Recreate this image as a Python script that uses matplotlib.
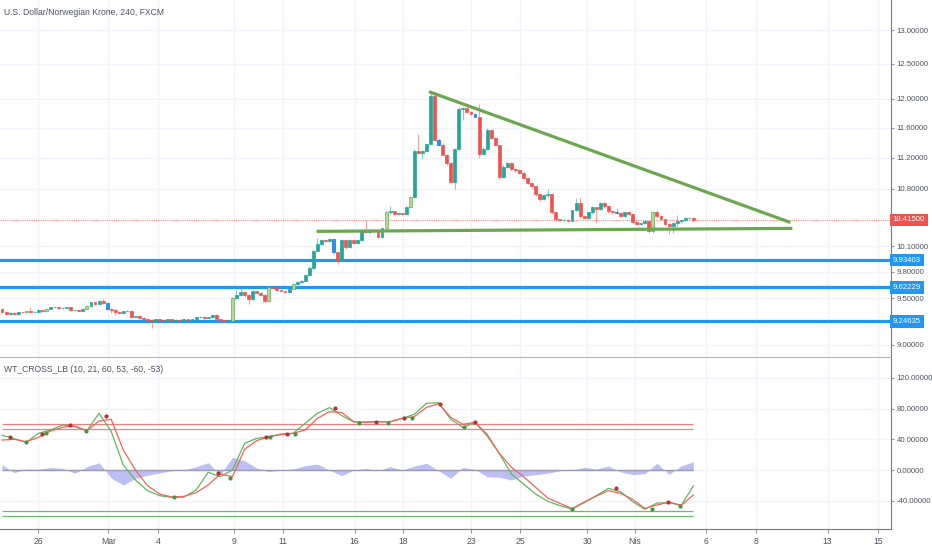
import numpy as np
import matplotlib
matplotlib.use('Agg')
import matplotlib.pyplot as plt
from matplotlib.ticker import FixedLocator, FixedFormatter, NullLocator

plt.rcParams['font.family'] = ['Liberation Sans', 'DejaVu Sans']

# ---- price data (4h bars) ----
first_open = 9.381
closes = [9.348, 9.326, 9.340, 9.326, 9.348, 9.345, 9.359, 9.350, 9.355, 9.370,
          9.359, 9.386, 9.403, 9.400, 9.392, 9.397, 9.403, 9.370, 9.370, 9.365,
          9.386, 9.414, 9.458, 9.436, 9.475, 9.447, 9.381, 9.375, 9.348, 9.343,
          9.359, 9.364, 9.293, 9.304, 9.283, 9.274, 9.266, 9.255, 9.270, 9.265,
          9.258, 9.270, 9.261, 9.267, 9.255, 9.270, 9.256, 9.270, 9.290, 9.300,
          9.284, 9.290, 9.320, 9.270, 9.260, 9.250, 9.252, 9.502, 9.536, 9.569,
          9.536, 9.491, 9.580, 9.558, 9.540, 9.469, 9.625, 9.614, 9.592, 9.585,
          9.569, 9.603, 9.659, 9.680, 9.700, 9.760, 9.840, 10.038, 10.121, 10.168,
          10.156, 10.180, 10.026, 9.933, 10.168, 10.085, 10.168, 10.132, 10.168, 10.275,
          10.263, 10.287, 10.275, 10.203, 10.311, 10.505, 10.517, 10.481, 10.493, 10.481,
          10.567, 10.691, 11.294, 11.267, 11.294, 11.386, 12.042, 11.439, 11.373, 11.241,
          11.136, 10.892, 11.320, 11.861, 11.875, 11.820, 11.790, 11.750, 11.254, 11.320,
          11.573, 11.466, 11.373, 10.956, 11.084, 11.136, 11.058, 11.045, 11.007, 10.943,
          10.879, 10.829, 10.728, 10.666, 10.716, 10.728, 10.505, 10.420, 10.408, 10.412,
          10.405, 10.530, 10.616, 10.456, 10.432, 10.505, 10.567, 10.542, 10.616, 10.579,
          10.517, 10.505, 10.493, 10.456, 10.505, 10.481, 10.383, 10.359, 10.371, 10.395,
          10.275, 10.505, 10.456, 10.420, 10.359, 10.335, 10.371, 10.395, 10.408, 10.432,
          10.437, 10.415]
highs = [9.395, 9.360, 9.350, 9.345, 9.355, 9.352, 9.365, 9.400, 9.365, 9.378,
         9.375, 9.392, 9.410, 9.410, 9.405, 9.405, 9.410, 9.408, 9.378, 9.375,
         9.392, 9.420, 9.465, 9.462, 9.480, 9.490, 9.450, 9.390, 9.380, 9.360,
         9.365, 9.372, 9.368, 9.310, 9.310, 9.295, 9.282, 9.272, 9.277, 9.274,
         9.270, 9.276, 9.274, 9.274, 9.270, 9.277, 9.274, 9.277, 9.297, 9.307,
         9.305, 9.297, 9.327, 9.325, 9.275, 9.265, 9.260, 9.510, 9.590, 9.625,
         9.575, 9.545, 9.590, 9.590, 9.570, 9.550, 9.635, 9.632, 9.620, 9.600,
         9.590, 9.612, 9.667, 9.690, 9.710, 9.770, 9.870, 10.060, 10.200, 10.180,
         10.170, 10.190, 10.185, 10.030, 10.180, 10.175, 10.180, 10.180, 10.180, 10.285,
         10.410, 10.300, 10.295, 10.280, 10.320, 10.520, 10.580, 10.520, 10.500, 10.500,
         10.580, 10.700, 11.310, 11.510, 11.300, 11.400, 12.099, 12.099, 11.460, 11.390,
         11.250, 11.140, 11.330, 11.880, 11.890, 11.885, 11.830, 11.800, 11.930, 11.340,
         11.590, 11.580, 11.470, 11.380, 11.100, 11.150, 11.140, 11.070, 11.050, 11.020,
         10.950, 10.890, 10.840, 10.730, 10.730, 10.800, 10.735, 10.510, 10.430, 10.420,
         10.420, 10.540, 10.690, 10.700, 10.470, 10.515, 10.580, 10.575, 10.630, 10.630,
         10.590, 10.530, 10.560, 10.510, 10.515, 10.520, 10.490, 10.400, 10.380, 10.410,
         10.400, 10.520, 10.530, 10.470, 10.430, 10.370, 10.390, 10.470, 10.420, 10.445,
         10.450, 10.445]
lows = [9.340, 9.318, 9.320, 9.320, 9.322, 9.338, 9.340, 9.345, 9.345, 9.350,
        9.352, 9.355, 9.380, 9.392, 9.386, 9.388, 9.390, 9.365, 9.362, 9.358,
        9.360, 9.380, 9.410, 9.430, 9.430, 9.440, 9.375, 9.340, 9.315, 9.330,
        9.340, 9.350, 9.285, 9.290, 9.278, 9.268, 9.260, 9.175, 9.250, 9.258,
        9.252, 9.255, 9.256, 9.256, 9.250, 9.252, 9.250, 9.252, 9.264, 9.285,
        9.278, 9.280, 9.285, 9.264, 9.252, 9.244, 9.240, 9.245, 9.490, 9.530,
        9.520, 9.436, 9.480, 9.550, 9.530, 9.460, 9.465, 9.600, 9.585, 9.578,
        9.560, 9.565, 9.600, 9.650, 9.675, 9.690, 9.755, 9.830, 10.030, 10.110,
        10.145, 10.150, 10.010, 9.887, 9.920, 10.070, 10.080, 10.120, 10.120, 10.160,
        10.250, 10.250, 10.260, 10.190, 10.190, 10.300, 10.490, 10.470, 10.470, 10.470,
        10.475, 10.560, 10.680, 11.250, 11.180, 11.280, 11.380, 11.420, 11.360, 11.230,
        11.110, 10.880, 10.800, 11.300, 11.700, 11.810, 11.780, 11.740, 11.200, 11.240,
        11.300, 11.450, 11.360, 10.920, 10.940, 11.070, 11.040, 11.020, 10.990, 10.930,
        10.860, 10.810, 10.710, 10.650, 10.660, 10.700, 10.490, 10.400, 10.400, 10.400,
        10.398, 10.400, 10.520, 10.440, 10.420, 10.420, 10.490, 10.380, 10.530, 10.565,
        10.500, 10.490, 10.480, 10.445, 10.450, 10.470, 10.370, 10.350, 10.350, 10.360,
        10.260, 10.260, 10.440, 10.410, 10.350, 10.240, 10.260, 10.330, 10.380, 10.400,
        10.420, 10.400]

hl_green = [6, 11, 21, 57, 66, 72, 95, 101, 161]
hl_blue = [26, 82, 108, 117, 152]

# support / resistance levels and drawn trend lines
levels = [9.93403, 9.62229, 9.24635]
last_price = 10.415
trend_upper = ([105.6, 195.0], [12.10, 10.383])
trend_lower = ([77.8, 195.5], [10.275, 10.311])

price_ticks = [13.0, 12.5, 12.0, 11.6, 11.2, 10.8, 10.1, 9.8, 9.5, 9.0]

# date axis
date_labels = ['26', 'Mar', '4', '9', '11', '16', '18', '23', '25', '30', 'Nis', '6', '8', '13', '15']
date_pos = [8.9, 26.3, 38.7, 57.5, 69.4, 87.2, 99.1, 116.0, 128.1, 144.7, 156.6, 174.2, 186.6, 204.2, 216.6]

# ---- WT_CROSS_LB, sampled every 3 bars ----
wt1 = [45.2, 40.8, 36.0, 47.7, 52.1, 58.6, 56.4, 51.2, 73.8, 50.3,
       6.5, -13.0, -26.9, -33.4, -35.6, -35.2, -26.0, -3.0, -8.7, 0.0,
       34.7, 41.2, 43.4, 46.9, 47.7, 60.8, 73.8, 81.2, 71.0, 62.5,
       62.5, 62.9, 62.9, 67.2, 72.5, 86.8, 87.7, 66.0, 55.5, 62.0,
       44.3, 21.7, -5.2, -18.2, -31.3, -40.8, -46.4, -50.8, -42.5, -33.4,
       -23.9, -28.2, -41.2, -51.2, -43.0, -42.5, -46.0, -20.8]
wt2 = [39.0, 39.9, 36.9, 42.5, 50.8, 55.6, 57.3, 51.2, 63.8, 66.0,
       26.0, 0.0, -20.4, -31.3, -35.2, -34.3, -29.5, -19.5, -5.2, -8.7,
       26.9, 38.2, 43.4, 46.0, 47.7, 52.1, 67.3, 75.9, 75.0, 62.9,
       62.0, 62.9, 62.5, 67.2, 69.4, 81.6, 86.4, 68.5, 59.5, 62.0,
       46.4, 21.7, 3.5, -8.7, -22.6, -36.5, -43.4, -50.3, -41.7, -33.9,
       -26.9, -30.4, -38.2, -49.9, -45.6, -41.7, -46.0, -32.6]
wt_diff = [7, -3.5, 1.3, 0.9, 3.0, 2.2, -4.3, 4.3, 9.5, -10.4,
           -19.5, -10.9, -6.9, -3.9, -0.9, 0, 4.3, 9.5, -6.0, 16.5,
           12.0, 2.6, -2.2, 0, 1.3, 5.6, 7.8, 0, -7.4, 0,
           2.2, -0.9, 4.3, 0, 5.2, 8.7, -0.9, -10.9, 3.5, 0.9,
           -8.7, -9.5, -13.0, -7.8, -6.1, -4.3, -0.9, 0, 3.5, 1.3,
           5.2, -2.6, -6.0, -4.8, 8.7, -5.6, 5.2, 10.9]

# cross dots (bar, value, 1 = up cross)
cross_bar = [2.0, 5.9, 9.9, 10.9, 16.9, 20.8, 25.8, 42.6, 53.5, 56.5, 65.4, 66.4, 70.4, 72.4,
             82.3, 88.2, 92.4, 95.4, 99.4, 101.4, 108.3, 114.2, 117.0, 141.0, 151.9, 160.8,
             164.8, 167.8]
cross_val = [42.5, 36.9, 46.9, 48.6, 58.6, 51.2, 70.3, -35.6, -4.3, -10.9, 42.5, 42.5, 46.9, 46.4,
             80.3, 60.8, 62.9, 60.8, 68.1, 68.1, 86.0, 56.4, 62.0, -50.8, -23.9, -50.8,
             -41.2, -46.4]
cross_up = [0, 1, 0, 1, 0, 1, 0, 1, 0, 1, 0, 1, 0, 1,
            0, 1, 0, 1, 0, 1, 0, 1, 0, 1, 0, 1,
            0, 1]

wt_levels_red = [60, 53]
wt_levels_green = [-53, -60]
wt_ticks = [120, 80, 40, 0, -40]

# ---- colours ----
UP = '#26a69a'
DOWN = '#ef5350'
BLUE = '#2196f3'
TREND = '#6aa84f'
GRID = '#f0f3fa'
TXT = '#4c525e'
AXC = '#9598a1'
FS = 5.6

W, H = 932, 550
fig = plt.figure(figsize=(W / 100, H / 100), dpi=100)
ax = fig.add_axes([0, 1 - 357 / H, 891 / W, 357 / H])
ax2 = fig.add_axes([0, 1 - 529 / H, 891 / W, (529 - 358) / H], sharex=ax)

n = len(closes)
x = np.arange(n)
opens = np.array([first_open] + closes[:-1])
closes = np.array(closes)
highs = np.array(highs)
lows = np.array(lows)
up = closes >= opens

face = np.where(up, UP, DOWN).astype(object)
edge = face.copy()
wick = face.copy()
for i in hl_green:
    face[i] = '#b5d99c'
    edge[i] = TREND
for i in hl_blue:
    face[i] = BLUE
    edge[i] = '#1e6fc4'
    wick[i] = BLUE

# grid
ax.set_xlim(-0.5, 219.9)
ax.set_yscale('log')
ax.set_ylim(8.87, 13.47)
for p in date_pos:
    ax.axvline(p, color=GRID, lw=1, zorder=0)
    ax2.axvline(p, color=GRID, lw=1, zorder=0)
for p in price_ticks:
    ax.axhline(p, color=GRID, lw=1, zorder=0)
for v in wt_ticks:
    ax2.axhline(v, color=GRID, lw=1, zorder=0)

# levels (under the candles)
for lv in levels:
    ax.axhline(lv, color=BLUE, lw=2.3, zorder=1.5)
ax.axhline(last_price, color='#f28b88', lw=0.8, ls=(0, (1, 1)), zorder=1)

# candles
ax.vlines(x, lows, highs, colors=list(wick), lw=0.8, alpha=0.55, zorder=2)
body_lo = np.minimum(opens, closes)
body_h = np.maximum(np.abs(closes - opens), 0.004)
ax.bar(x, body_h, bottom=body_lo, width=0.72, color=list(face),
       edgecolor=list(edge), linewidth=0.5, zorder=3)

ax.plot(*trend_upper, color=TREND, lw=2.3, solid_capstyle='butt', zorder=5)
ax.plot(*trend_lower, color=TREND, lw=2.3, solid_capstyle='butt', zorder=5)

# axis styling main
ax.yaxis.tick_right()
ax.yaxis.set_major_locator(FixedLocator(price_ticks))
ax.yaxis.set_major_formatter(FixedFormatter(['%.5f' % p for p in price_ticks]))
ax.yaxis.set_minor_locator(NullLocator())
ax.tick_params(axis='y', which='both', length=2.5, color=AXC, labelsize=FS,
               labelcolor=TXT, pad=1.5)
ax.tick_params(axis='x', length=0, labelbottom=False)
for s in ['left', 'top']:
    ax.spines[s].set_visible(False)
ax.spines['right'].set_color('#787b86')
ax.spines['bottom'].set_color('#b2b5be')
ax.spines['bottom'].set_linewidth(0.8)

for lv, col in [(l, BLUE) for l in levels] + [(last_price, '#ef5350')]:
    ax.text(1.002, lv, '%.5f' % lv, transform=ax.get_yaxis_transform(), color='white',
            fontsize=FS, va='center', ha='left',
            bbox=dict(boxstyle='square,pad=0.35', fc=col, ec='none'), zorder=10, clip_on=False)

ax.text(0.005, 0.965, 'U.S. Dollar/Norwegian Krone, 240, FXCM', transform=ax.transAxes,
        fontsize=6.2, color=TXT, va='center', ha='left')

# ---- indicator ----
wx = np.arange(len(wt1)) * 3
last = wx[-1]
ax2.set_ylim(-76.8, 145.8)
ax2.fill_between(wx, 0, wt_diff, color='#b4b8f2', alpha=0.9, lw=0, zorder=1)
ax2.hlines(0, 0, last, color='#9a9ab4', lw=1.0, zorder=2)
for v in wt_levels_red:
    ax2.hlines(v, 0, last, color='#f08080', lw=0.9, zorder=2)
for v in wt_levels_green:
    ax2.hlines(v, 0, last, color='#6cbf6a', lw=0.9, zorder=2)
ax2.plot(wx, wt1, color='#5cb85c', lw=0.9, zorder=3)
ax2.plot(wx, wt2, color='#f0645a', lw=0.9, zorder=3)
cb = np.array(cross_bar)
cv = np.array(cross_val)
cu = np.array(cross_up) == 1
ax2.scatter(cb[cu], cv[cu], s=9, color='#3f9b3f', zorder=4, lw=0)
ax2.scatter(cb[~cu], cv[~cu], s=9, color='#c0302b', zorder=4, lw=0)

ax2.yaxis.tick_right()
ax2.yaxis.set_major_locator(FixedLocator(wt_ticks))
ax2.yaxis.set_major_formatter(FixedFormatter(['%.5f' % v for v in wt_ticks]))
ax2.tick_params(axis='y', length=2.5, color=AXC, labelsize=FS, labelcolor=TXT, pad=1.5)
ax2.xaxis.set_major_locator(FixedLocator(date_pos))
ax2.xaxis.set_major_formatter(FixedFormatter(date_labels))
ax2.tick_params(axis='x', length=3, color=AXC, labelsize=6.2, labelcolor=TXT, pad=3)
for s in ['left', 'top']:
    ax2.spines[s].set_visible(False)
ax2.spines['right'].set_color('#787b86')
ax2.spines['bottom'].set_color('#787b86')
ax2.text(0.005, 0.93, 'WT_CROSS_LB (10, 21, 60, 53, -60, -53)', transform=ax2.transAxes,
         fontsize=6.2, color=TXT, va='center', ha='left')

fig.savefig('out.png', dpi=100, facecolor='white')
